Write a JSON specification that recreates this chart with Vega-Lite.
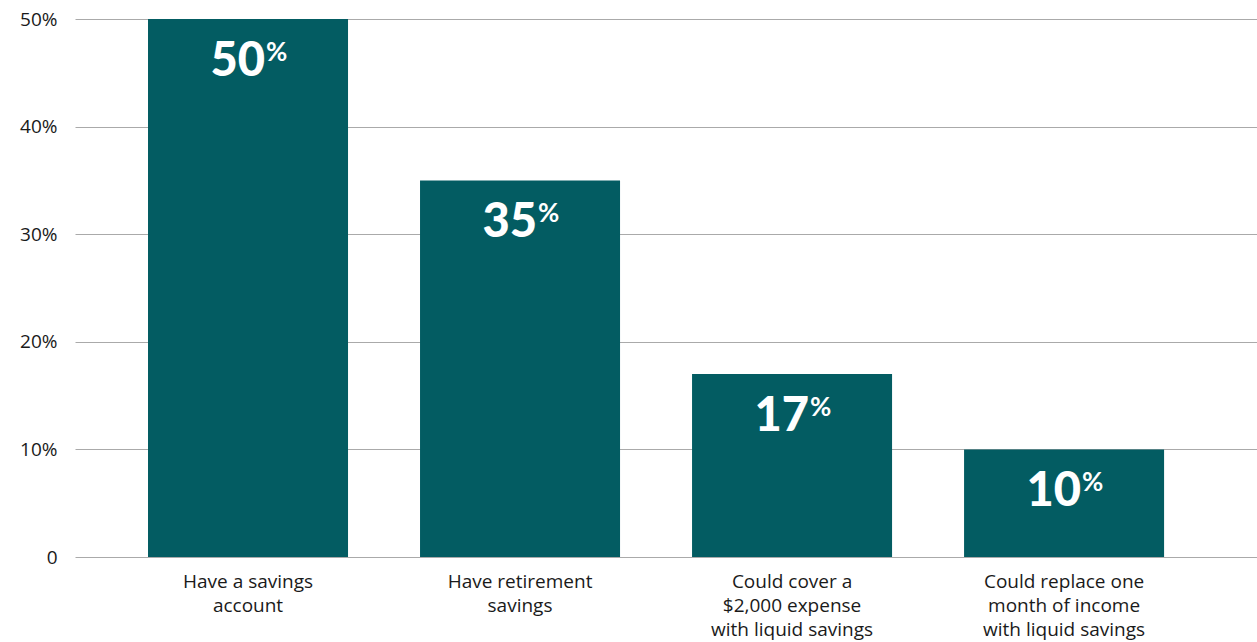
{
  "$schema": "https://vega.github.io/schema/vega-lite/v6.json",
  "width": 1182,
  "height": 538,
  "autosize": {"type": "none"},
  "padding": {"left": 75, "top": 19, "right": 0, "bottom": 85},
  "background": "white",
  "data": {
    "values": [
      {"category": "Have a savings|account", "value": 50},
      {"category": "Have retirement|savings", "value": 35},
      {"category": "Could cover a|$2,000 expense|with liquid savings", "value": 17},
      {"category": "Could replace one|month of income|with liquid savings", "value": 10}
    ]
  },
  "config": {
    "view": {"stroke": null},
    "font": "Open Sans"
  },
  "encoding": {
    "x": {
      "field": "category",
      "type": "nominal",
      "sort": null,
      "scale": {"paddingInner": 0.2647, "paddingOuter": 0.305, "align": 0.44},
      "axis": {
        "title": null,
        "labelAngle": 0,
        "domain": false,
        "ticks": false,
        "labelExpr": "split(datum.value, '|')",
        "labelFont": "Open Sans",
        "labelFontSize": 19,
        "labelColor": "#1a1a1a",
        "labelLineHeight": 24,
        "labelBaseline": "top",
        "labelPadding": 15,
        "labelFontWeight": 400
      }
    },
    "y": {
      "field": "value",
      "type": "quantitative",
      "scale": {"domain": [0, 50], "nice": false},
      "axis": {
        "title": null,
        "values": [0, 10, 20, 30, 40, 50],
        "labelExpr": "datum.value == 0 ? '0' : datum.value + '%'",
        "domain": false,
        "ticks": false,
        "grid": true,
        "gridColor": "#aaaaaa",
        "gridWidth": 1,
        "labelFont": "Open Sans",
        "labelFontSize": 19,
        "labelColor": "#1a1a1a",
        "labelPadding": 18,
        "labelFontWeight": 400
      }
    }
  },
  "layer": [
    {"mark": {"type": "bar", "color": "#035C62"}},
    {
      "mark": {"type": "text", "color": "white", "font": "Lato", "fontWeight": 900, "fontSize": 47, "align": "right", "baseline": "alphabetic", "dx": 17, "dy": 57},
      "encoding": {"text": {"field": "value", "type": "quantitative"}}
    },
    {
      "mark": {"type": "text", "color": "white", "font": "Lato", "fontWeight": 700, "fontSize": 26, "align": "left", "baseline": "alphabetic", "dx": 18, "dy": 42},
      "encoding": {"text": {"value": "%"}}
    }
  ]
}
